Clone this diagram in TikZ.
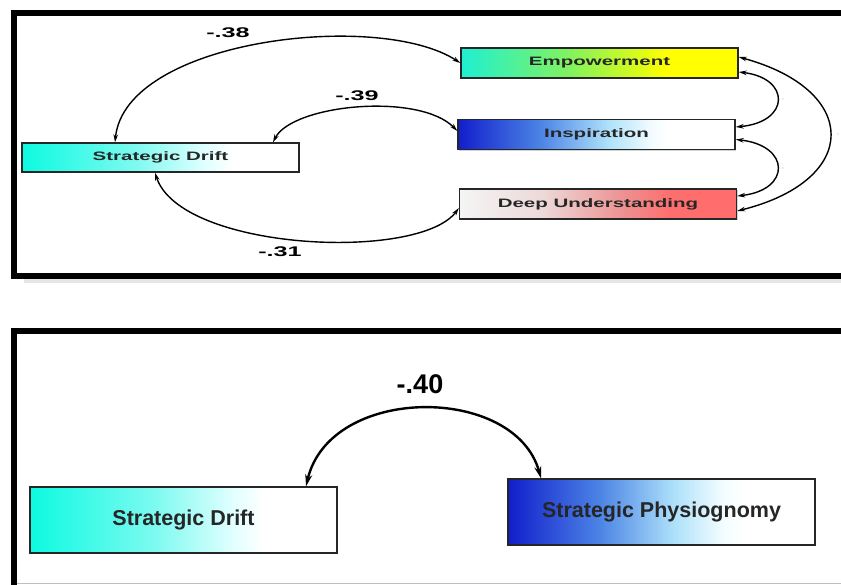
\documentclass[tikz,border=0pt]{standalone}
\usepackage{fontspec}
\setmainfont{Liberation Sans}
\newfontfamily\widefont[FakeStretch=1.68]{Liberation Sans}
\newfontfamily\numfont[FakeStretch=1.8]{Liberation Sans}
\usetikzlibrary{arrows.meta,shadows}

% box fills
\pgfdeclarehorizontalshading{empshade}{100bp}{rgb(0bp)=(0.12,0.94,0.82); rgb(25bp)=(0.12,0.94,0.82); rgb(45bp)=(0.52,0.95,0.36); rgb(58bp)=(0.88,0.99,0.08); rgb(62bp)=(1,1,0); rgb(100bp)=(1,1,0)}
\pgfdeclarehorizontalshading{inspshade}{100bp}{rgb(0bp)=(0.07,0.12,0.80); rgb(25bp)=(0.07,0.12,0.80); rgb(40bp)=(0.30,0.52,0.90); rgb(52bp)=(0.68,0.88,0.98); rgb(60bp)=(0.95,0.99,1); rgb(63bp)=(1,1,1); rgb(100bp)=(1,1,1)}
\pgfdeclarehorizontalshading{deepshade}{100bp}{rgb(0bp)=(0.96,0.96,0.96); rgb(25bp)=(0.96,0.96,0.96); rgb(40bp)=(0.93,0.85,0.85); rgb(55bp)=(0.93,0.56,0.56); rgb(63bp)=(1,0.43,0.43); rgb(100bp)=(1,0.42,0.42)}
\pgfdeclarehorizontalshading{driftshade}{100bp}{rgb(0bp)=(0.05,0.98,0.88); rgb(25bp)=(0.05,0.98,0.88); rgb(45bp)=(0.48,0.98,0.94); rgb(58bp)=(0.88,1,1); rgb(63bp)=(1,1,1); rgb(100bp)=(1,1,1)}

\begin{document}
\begin{tikzpicture}[x=1pt,y=-1pt,
  box/.style={draw=black!85,line width=1.3pt,inner sep=0pt,minimum width=277pt,minimum height=30pt,
    font=\widefont\bfseries\fontsize{12.2}{13}\selectfont,text=black!85,
    drop shadow={shadow xshift=1.2pt,shadow yshift=-1.2pt,opacity=0.35}},
  bigbox/.style={box,minimum width=307pt,minimum height=66pt,font=\bfseries\fontsize{21.5}{24}\selectfont},
  cov/.style={<->,>={Stealth[length=8pt,width=4.5pt]},line width=1.4pt},
  bigcov/.style={<->,>={Stealth[length=12pt,width=7pt]},line width=2.4pt},
  coef/.style={font=\numfont\bfseries\fontsize{14}{16}\selectfont},
  tinylab/.style={font=\fontsize{4}{4}\selectfont,text=gray},
  frame/.style={line width=6pt,line join=miter}]
  \useasboundingbox (0,0) rectangle (841,585);
  \clip (0,0) rectangle (841,585);

  % Frames
  \fill[black!20,opacity=0.5] (24,279) rectangle (850,283);
  \draw[frame] (850,13.5) -| (14,276) -- (850,276);
  \draw[frame] (850,331) -| (14,600);
  \draw[black!25,line width=1pt] (17,583.5) -- (841,583.5);

  % Top model
  \node[box,shading=empshade] (emp) at (599.5,63) {Empowerment};
  \node[box,shading=inspshade] (insp) at (596.5,134.5) {Inspiration};
  \node[box,shading=deepshade] (deep) at (598,204) {Deep Understanding};
  \node[box,shading=driftshade,minimum height=29pt] (sdtop) at (160.5,157.5) {Strategic Drift};

  \draw[cov] ([xshift=-45.5pt]sdtop.north) .. controls +(10,-103) and +(-81,-53) .. (emp.west);
  \draw[cov] ([xshift=112.5pt]sdtop.north) .. controls +(19,-38) and +(-38,-39) .. ([yshift=3.5pt]insp.west);
  \draw[cov] ([xshift=-5.5pt]sdtop.south) .. controls +(25,78) and +(-40,54) .. ([yshift=-4pt]deep.west);
  \draw[cov] ([yshift=6pt]emp.east) .. controls +(121.5,33) and +(124,-31) .. ([yshift=-7pt]deep.east);
  \draw[cov] ([yshift=-9pt]emp.east) .. controls +(52,6) and +(55,-5) .. ([yshift=7.5pt]insp.east);
  \draw[cov] ([yshift=-5pt]insp.east) .. controls +(55,6) and +(54,-6) .. ([yshift=8pt]deep.east);

  \node[coef] (c38) at (228,33) {-.38};
  \node[coef] (c39) at (357,96) {-.39};
  \node[coef] (c31) at (280,252) {-.31};
  \node[tinylab] (t1) at (783,100) {--};
  \node[tinylab] (t2) at (783,169) {--};
  \node[tinylab] (t3) at (838,135) {--};

  % Bottom model
  \node[bigbox,shading=driftshade] (sdbot) at (183.5,520) {Strategic Drift};
  \node[bigbox,shading=inspshade] (phys) at (661.5,512) {Strategic Physiognomy};

  \draw[bigcov] ([xshift=122.5pt]sdbot.north) .. controls +(24,-102) and +(-26,-94) .. ([xshift=-120.5pt]phys.north);
  \node[font=\bfseries\fontsize{27}{30}\selectfont] (c40) at (420,384) {-.40};

\end{tikzpicture}
\end{document}
